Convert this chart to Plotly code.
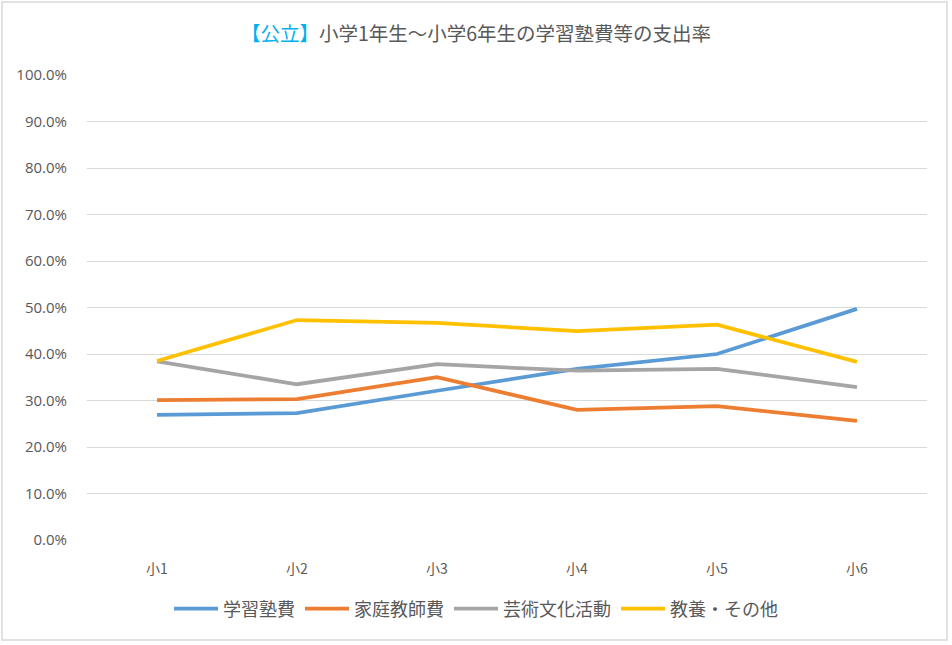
import plotly.graph_objects as go

# data (percent)
grades = ["小1", "小2", "小3", "小4", "小5", "小6"]
juku = [26.9, 27.3, 32.1, 36.8, 40.0, 49.7]
katei = [30.1, 30.3, 35.0, 28.0, 28.8, 25.6]
geijutsu = [38.4, 33.5, 37.8, 36.4, 36.8, 32.9]
kyoyo = [38.5, 47.3, 46.7, 44.9, 46.3, 38.3]

series = [
    ("学習塾費", juku, "#5B9BD5"),
    ("家庭教師費", katei, "#ED7D31"),
    ("芸術文化活動", geijutsu, "#A5A5A5"),
    ("教養・その他", kyoyo, "#FFC000"),
]

jp = "Noto Sans CJK JP"

fig = go.Figure()
for name, vals, color in series:
    fig.add_trace(go.Scatter(
        x=grades, y=[v / 100 for v in vals], mode="lines", name=name,
        line=dict(color=color, width=3.75)))

fig.update_layout(
    width=952, height=645,
    margin=dict(l=87, r=25, t=75, b=105),
    paper_bgcolor="white", plot_bgcolor="white",
    font=dict(family="Open Sans, " + jp, color="#595959", size=15),
    title=dict(
        text="<span style='color:#00B0F0'>【公立】</span>小学1年生～小学6年生の学習塾費等の支出率",
        x=0.5, xanchor="center", y=1 - 34 / 645, yanchor="middle",
        font=dict(size=19.5, color="#595959", family=jp)),
    # legend centred on the whole figure, not the plot area
    legend=dict(orientation="h", x=(476 - 87) / 840, xanchor="center", y=-0.148, yanchor="middle",
                font=dict(size=18, family=jp), itemwidth=44),
    showlegend=True,
)
fig.update_xaxes(range=[-0.5, 5.5], showgrid=False, showline=False, zeroline=False,
                 ticks="outside", ticklen=16, tickcolor="rgba(0,0,0,0)",
                 tickfont=dict(family=jp, size=14))
fig.update_yaxes(range=[0, 1], dtick=0.1, tickformat=".1%", showgrid=True,
                 gridcolor="#D9D9D9", gridwidth=1, zeroline=False, showline=False,
                 ticks="outside", ticklen=16, tickcolor="rgba(0,0,0,0)")

# outer chart border
fig.add_shape(type="rect", xref="paper", yref="paper",
              x0=(2 - 87) / 840, x1=(947 - 87) / 840,
              y0=(540 - 640) / 465, y1=(540 - 2) / 465,
              line=dict(color="#D9D9D9", width=1.5), fillcolor="rgba(0,0,0,0)")

fig.write_html("out.html", config={"displayModeBar": False},
               post_script="document.body.style.margin='0';")
